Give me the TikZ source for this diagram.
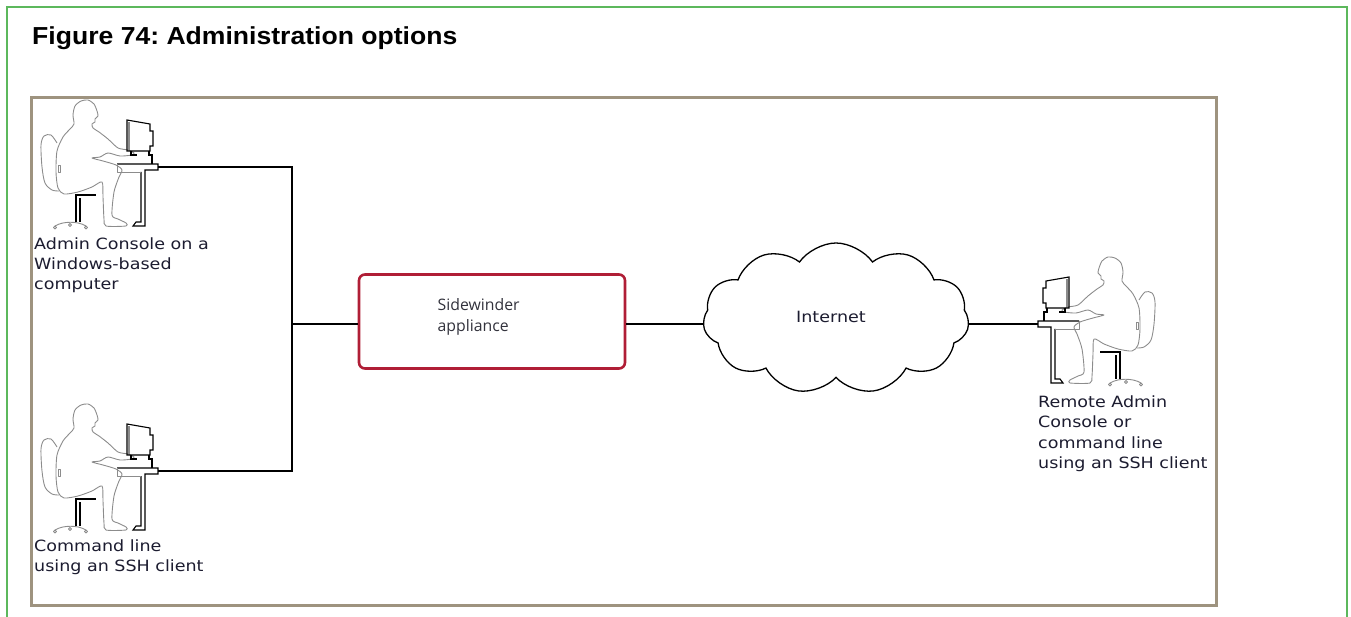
\documentclass[tikz,border=0pt]{standalone}
\usepackage{fontspec}
\setmainfont{DejaVu Sans}[FakeStretch=1.13]
\newfontfamily\titlefont{Liberation Sans}[FakeStretch=1.08]
\newfontfamily\boxfont{Open Sans}
\usetikzlibrary{shapes.symbols}
\frenchspacing
\definecolor{framegreen}{RGB}{92,184,92}
\definecolor{framebrown}{RGB}{158,147,127}
\definecolor{applred}{RGB}{176,30,54}
\definecolor{figgray}{RGB}{140,140,140}
\definecolor{labeltext}{RGB}{28,28,48}
\definecolor{boxtext}{RGB}{50,50,60}

\tikzset{
  wire/.style={draw=black, line width=1.3pt},
  figline/.style={draw=figgray, line width=0.9pt, line join=round},
  figblack/.style={draw=black, line width=1.1pt},
  % multi-line captions are anchored on the baseline of their last line
  caption/.style={font=\fontsize{15.5}{20.3}\selectfont, align=left, inner sep=0pt,
                  anchor=base west, text=labeltext},
  % seated user at a desk with a CRT monitor; origin = cable outlet of the desk
  workstation/.pic={
    % person
    \draw[figline] plot[smooth cycle, tension=0.45] coordinates {
      (-84,-43) (-85,-52) (-83,-61) (-77,-66) (-70,-67) (-64,-63) (-61,-56)
      (-60,-51) (-63,-48) (-63,-45) (-66,-43) (-65,-39) (-59,-35) (-50,-28)
      (-40,-19) (-30,-17) (-24,-14) (-26,-12) (-38,-11) (-50,-14) (-58,-10)
      (-66,-9) (-55,-6) (-42,-2) (-36,3) (-39,10) (-44,25) (-46,48) (-40,52)
      (-32,56) (-32,59) (-52,59) (-54,52) (-55,30) (-56,15) (-66,20) (-80,25)
      (-94,27) (-100,21) (-102,5) (-101,-16) (-95,-30) (-88,-38)};
    % chair back rest
    \draw[figline] plot[smooth, tension=0.5] coordinates {
      (-101,-24) (-107,-32) (-114,-31) (-117,-22) (-116,0) (-113,16) (-106,23) (-99,24)};
    \draw[figline] (-100,-2) rectangle (-98,5);
    % chair post and base
    \draw[figblack] (-82,55) -- (-82,28) -- (-62,28);
    \draw[figblack] (-78,55) -- (-78,31);
    \draw[figline] (-103,59) .. controls (-95,54) and (-80,54) .. (-72,59);
    \draw[figline] (-103,60.5) circle (1.5) (-72,60.5) circle (1.5) (-88,58) circle (1.5);
    % monitor
    \draw[figblack] (-31,-16) -- (-31,-47) -- (-8,-43) -- (-8,-36) -- (-5,-36)
      -- (-5,-21) -- (-8,-21) -- (-8,-16) -- cycle;
    \draw[draw=figgray, line width=1.6pt] (-29,-45) -- (-29,-17);
    \draw[figblack] (-27,-16) -- (-27,-12) -- (-21,-12);
    \draw[figblack] (-9,-16) -- (-9,-12) -- (-6,-12) -- (-6,-3);
    % desk
    \draw[figblack] (-41,-3) -- (0,-3) -- (0,3) -- (-13,3) -- (-13,59)
      -- (-25,59) -- (-22,55) -- (-17,55) -- (-17,5);
    \draw[figline] (-41,-3) -- (-41,5) -- (-17,5);
  }
}

\begin{document}
\begin{tikzpicture}[x=1pt, y=-1pt]
\useasboundingbox (0,0) rectangle (1351,617);

% page frame
\draw[framegreen, line width=1.5pt] (7,620) -- (7,7) -- (1347,7) -- (1347,620);
\node[font=\titlefont\bfseries\fontsize{24.6}{28}\selectfont, anchor=base west,
      inner sep=0pt] (title) at (32,44.3) {Figure 74: Administration options};

% figure frame
\draw[framebrown, line width=3pt] (31,98) rectangle (1216,605);

% cable points
\coordinate (pcA) at (158,167);
\coordinate (pcB) at (158,471);
\coordinate (pcC) at (1038,324);
\coordinate (bus) at (292,324);

% workstations
\pic at (pcA) {workstation};
\pic at (pcB) {workstation};
\pic[xscale=-1] at (pcC) {workstation};

% appliance
\node[draw=applred, line width=2.6pt, rounded corners=6pt, minimum width=266pt,
      minimum height=94pt, inner sep=0pt] (box) at (492,321.5) {};
\node[font=\boxfont\fontsize{15.8}{21}\selectfont, align=left, inner sep=0pt,
      anchor=base west, text=boxtext] (boxlabel) at (437.5,331.7) {Sidewinder\\appliance};

% internet cloud
\node[cloud, draw=black, line width=1.3pt, cloud puffs=11, cloud puff arc=110,
      aspect=1.76, minimum width=266pt, minimum height=151pt, inner sep=0pt]
      (cloud) at (836,318.5) {};
\node[caption] (inet) at (796,322.7) {Internet};

% wiring
\draw[wire] (pcA) -- (pcA -| bus) -- (pcB -| bus) -- (pcB);
\draw[wire] (bus) -- (bus -| box.west);
\draw[wire] (box.east |- pcC) -- (cloud.west |- pcC);
\draw[wire] (cloud.east |- pcC) -- (pcC);

% captions
\node[caption] (capA) at (34,289.9) {Admin Console on a\\Windows-based\\computer};
\node[caption] (capB) at (34,571.5) {Command line\\using an SSH client};
\node[caption] (capC) at (1038,468.3) {Remote Admin\\Console or\\command line\\using an SSH client};
\end{tikzpicture}
\end{document}
